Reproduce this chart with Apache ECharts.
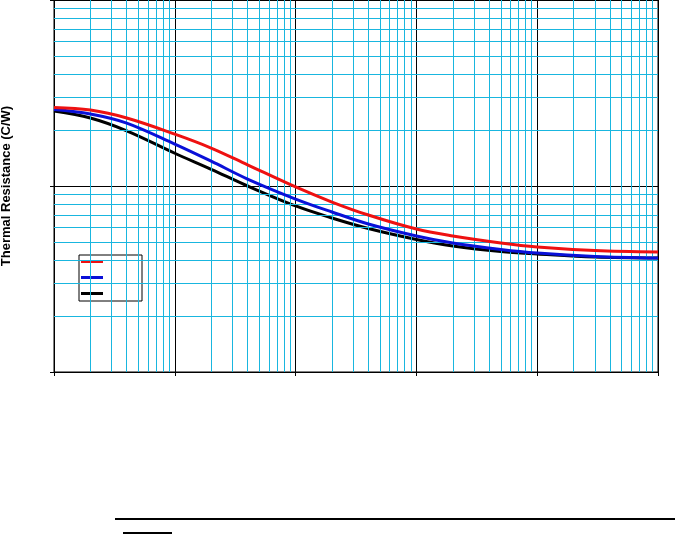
<!DOCTYPE html>
<html>
<head>
<meta charset="utf-8">
<script src="https://cdn.jsdelivr.net/npm/echarts@6/dist/echarts.min.js"></script>
<style>
  html, body { margin: 0; padding: 0; background: #fff; }
  #chart { width: 675px; height: 536px; }
</style>
</head>
<body>
<div id="chart"></div>
<script>
// x positions where the curves were read (log axis, 5 decades)
var xValues = [0.01, 0.02, 0.04, 0.1, 0.2, 0.4, 1, 2, 4, 10, 20, 50, 100, 300, 1000]
var redValues = [2.64, 2.56, 2.32, 1.90, 1.60, 1.30, 0.988, 0.820, 0.698, 0.587, 0.539, 0.494, 0.470, 0.450, 0.442]
var blueValues = [2.58, 2.44, 2.18, 1.68, 1.36, 1.09, 0.851, 0.725, 0.625, 0.539, 0.494, 0.456, 0.436, 0.418, 0.410]
var blackValues = [2.53, 2.32, 1.98, 1.50, 1.23, 1.00, 0.781, 0.673, 0.591, 0.516, 0.476, 0.444, 0.431, 0.415, 0.410]
var seriesNames = ['Curve 1', 'Curve 2', 'Curve 3']

// decades of the log grid
var xDecades = [0.01, 0.1, 1, 10, 100]
var yDecades = [0.1, 1]
var minorSteps = [2, 3, 4, 5, 6, 7, 8, 9]

var cyan = '#19b6df'

function pairs (xs, ys) {
  return xs.map(function (x, i) { return [x, ys[i]] })
}

// minor grid lines (cyan) through the axes
var minorLines = []
xDecades.forEach(function (d) {
  minorSteps.forEach(function (m) {
    minorLines.push({ xAxis: +(d * m).toPrecision(3) })
  })
})
yDecades.forEach(function (d) {
  minorSteps.forEach(function (m) {
    minorLines.push({ yAxis: +(d * m).toPrecision(3) })
  })
})

function curve (name, color, values, z) {
  return {
    name: name,
    type: 'line',
    smooth: 0.35,
    showSymbol: false,
    z: z,
    color: color,
    lineStyle: { width: 3, color: color },
    data: pairs(xValues, values)
  }
}

var myChart = echarts.init(document.getElementById('chart'))
var option = {
  animation: false,
  grid: {
    left: 54,
    right: 17,
    top: 0,
    bottom: 164,
    containLabel: false,
    outerBoundsMode: 'none',
    show: true,
    borderColor: '#000',
    borderWidth: 1
  },
  legend: {
    data: seriesNames,
    orient: 'vertical',
    left: 79,
    top: 255,
    backgroundColor: '#fff',
    borderColor: '#000',
    borderWidth: 1,
    borderRadius: 0,
    padding: [5, 39, 6, 2],
    itemGap: 13,
    itemWidth: 22,
    itemHeight: 3,
    icon: 'rect',
    formatter: function () { return '' },
    textStyle: { fontSize: 10 }
  },
  xAxis: {
    type: 'log',
    logBase: 10,
    min: 0.01,
    max: 1000,
    interval: 1,
    splitNumber: 5,
    z: 3,
    axisLine: { show: true, lineStyle: { color: '#000', width: 1 } },
    axisTick: { show: true, inside: false, length: 4, lineStyle: { color: '#000' } },
    axisLabel: { show: false },
    splitLine: { show: true, lineStyle: { color: '#000', width: 1 } },
    minorTick: { show: false },
    minorSplitLine: { show: false }
  },
  yAxis: {
    type: 'log',
    logBase: 10,
    min: 0.1,
    max: 10,
    interval: 1,
    splitNumber: 2,
    z: 3,
    name: 'Thermal Resistance (C/W)',
    nameLocation: 'middle',
    nameGap: 41,
    nameTextStyle: {
      fontFamily: 'Liberation Sans, Arial, sans-serif',
      fontWeight: 'bold',
      fontSize: 13,
      color: '#000'
    },
    axisLine: { show: true, lineStyle: { color: '#000', width: 1 } },
    axisTick: { show: true, inside: false, length: 4, lineStyle: { color: '#000' } },
    axisLabel: { show: false },
    splitLine: { show: true, lineStyle: { color: '#000', width: 1 } },
    minorTick: { show: false },
    minorSplitLine: { show: false }
  },
  series: [
    {
      name: 'grid',
      type: 'line',
      data: [],
      z: 1,
      silent: true,
      markLine: {
        silent: true,
        symbol: 'none',
        label: { show: false },
        lineStyle: { color: cyan, width: 1, type: 'solid' },
        data: minorLines
      }
    },
    curve(seriesNames[0], '#ee1111', redValues, 6),
    curve(seriesNames[1], '#0a10d8', blueValues, 5),
    curve(seriesNames[2], '#000000', blackValues, 4)
  ],
  graphic: [
    // rules under the plot
    { type: 'line', shape: { x1: 115, y1: 519, x2: 675, y2: 519 }, style: { stroke: '#000', lineWidth: 2 } },
    { type: 'line', shape: { x1: 123, y1: 533, x2: 172, y2: 533 }, style: { stroke: '#000', lineWidth: 2 } }
  ]
}
myChart.setOption(option)
</script>
</body>
</html>
